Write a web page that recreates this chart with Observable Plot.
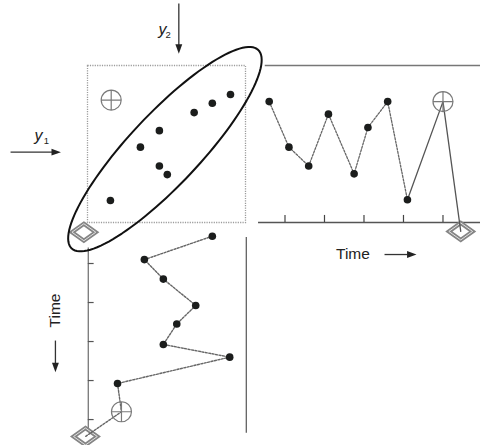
<!DOCTYPE html>
<html><head><meta charset="utf-8">
<script src="https://cdn.jsdelivr.net/npm/d3@7"></script>
<script src="https://cdn.jsdelivr.net/npm/@observablehq/plot@0.6"></script>
<style>
html,body{margin:0;padding:0;background:#fff;}
#chart{position:relative;width:480px;height:445px;overflow:hidden;}
#chart svg{position:absolute;left:0;top:0;}
</style></head><body><div id="chart"></div>
<script>
// ---- data ----
// right panel: y1 over time
const time = [1.2, 2.2, 3.2, 4.2, 5.5, 6.2, 7.2, 8.2];
const y1Values = [7.7, 4.8, 3.6, 6.9, 3.1, 6.05, 7.7, 1.45];
// bottom panel: y2 over time (time runs downward)
const timeDown = [0.6, 1.8, 2.8, 4.15, 5.1, 6.15, 6.8, 8.15];
const y2Values = [7.9, 3.6, 4.8, 6.85, 5.65, 4.8, 9.0, 1.9];
// scatter panel: y1 against y2
const scatterY2 = [9.05, 7.9, 6.75, 4.55, 3.35, 4.55, 5.05, 1.45];
const scatterY1 = [8.15, 7.6, 7.0, 5.85, 4.8, 3.6, 3.05, 1.4];
// new observation (circled plus) in each panel
const newScatter = [1.5, 7.8];   // [y2, y1]
const newRight = [10.0, 7.7];    // [time, y1]
const newBottom = [2.15, 9.6];   // [y2, time]
// reference point (diamond) in each panel
const refScatter = [-0.23, -0.62];
const refRight = [10.9, -0.57];
const refBottom = [-0.13, 10.87];
// time axis ticks
const timeTicks = [2, 4, 6, 8, 10];
// control ellipse: centre y2, centre y1, semi-major, semi-minor, angle (deg)
const ellipseParams = [4.9, 4.67, 8.65, 2.25, 47];
// texts
const labelY = "y";
const labelSub1 = "1";
const labelSub2 = "2";
const labelTime = "Time";

// ---- styles ----
const FONT = "'Liberation Sans', Arial, Helvetica, sans-serif";
const ink = "#1b1d1c";
const lineGray = "#666";

// ---- custom symbols ----
const circlePlus = {draw(ctx, size) {
  const r = Math.sqrt(size / Math.PI);
  ctx.moveTo(r, 0); ctx.arc(0, 0, r, 0, 2 * Math.PI);
  ctx.moveTo(-r, 0); ctx.lineTo(r, 0);
  ctx.moveTo(0, -r); ctx.lineTo(0, r);
}};
const diamondSym = {draw(ctx, size) {
  const r = Math.sqrt(size / Math.PI);
  const w = r * 1.4, h = r;
  ctx.moveTo(0, -h); ctx.lineTo(w, 0); ctx.lineTo(0, h); ctx.lineTo(-w, 0); ctx.closePath();
}};
const headRight = {draw(ctx, size) {
  const r = Math.sqrt(size / Math.PI);
  ctx.moveTo(r * 1.1, 0); ctx.lineTo(-r * 1.1, -r * 0.8); ctx.lineTo(-r * 1.1, r * 0.8); ctx.closePath();
}};
const headDown = {draw(ctx, size) {
  const r = Math.sqrt(size / Math.PI);
  ctx.moveTo(0, r * 1.1); ctx.lineTo(-r * 0.8, -r * 1.1); ctx.lineTo(r * 0.8, -r * 1.1); ctx.closePath();
}};

function diamondMarks(pt) {
  const d = [pt];
  return [
    Plot.dot(d, {x: p => p[0], y: p => p[1], r: 8.5, symbol: diamondSym, fill: "#fff", stroke: "#858585", strokeWidth: 4.2}),
    Plot.dot(d, {x: p => p[0], y: p => p[1], r: 8.5, symbol: diamondSym, fill: "none", stroke: "#e2e2e2", strokeWidth: 1})
  ];
}
function plusMark(pt) {
  return Plot.dot([pt], {x: p => p[0], y: p => p[1], r: 10, symbol: circlePlus, fill: "none", stroke: "#7a7a7a", strokeWidth: 1.2});
}

const W = 480, H = 445;
const svgStyle = "background:transparent;overflow:visible;";
const chart = document.getElementById("chart");

// ---- scatter panel ----
const scatter = scatterY2.map((v, i) => ({y2: v, y1: scatterY1[i]}));
const [ecx, ecy, ea, eb, eang] = ellipseParams;
const th = eang * Math.PI / 180;
const ellipse = d3.range(0, 360, 3).map(deg => {
  const p = deg * Math.PI / 180;
  return {
    x: ecx + ea * Math.cos(p) * Math.cos(th) - eb * Math.sin(p) * Math.sin(th),
    y: ecy + ea * Math.cos(p) * Math.sin(th) + eb * Math.sin(p) * Math.cos(th)
  };
});

const panelA = Plot.plot({
  width: W, height: H, style: svgStyle,
  marginLeft: 87, marginRight: 235, marginTop: 65, marginBottom: 223,
  x: {domain: [0, 10], axis: null},
  y: {domain: [0, 10], axis: null},
  marks: [
    Plot.frame({stroke: "#9c9c9c", strokeWidth: 1.3, strokeDasharray: "1.2,1.2"}),
    ...diamondMarks(refScatter),
    Plot.dot(scatter, {x: "y2", y: "y1", r: 3.8, fill: ink}),
    plusMark(newScatter),
    Plot.line(ellipse, {x: "x", y: "y", stroke: "#111", strokeWidth: 2, curve: "linear-closed"}),
    // y1 label + arrow
    Plot.text([labelY], {x: -3.1, y: 5.5, text: d => d, fontSize: 16, fontStyle: "italic", fontFamily: FONT, fill: "#222"}),
    Plot.text([labelSub1], {x: -2.6, y: 5.2, text: d => d, fontSize: 9.5, fontFamily: FONT, fill: "#222"}),
    Plot.link([0], {x1: -4.87, x2: -2.2, y1: 4.48, y2: 4.48, stroke: "#333", strokeWidth: 1.3}),
    Plot.dot([0], {x: () => -1.98, y: () => 4.48, r: 4.3, symbol: headRight, fill: "#222"}),
    // y2 label + arrow
    Plot.text([labelY], {x: 4.75, y: 12.3, text: d => d, fontSize: 16, fontStyle: "italic", fontFamily: FONT, fill: "#222"}),
    Plot.text([labelSub2], {x: 5.1, y: 11.95, text: d => d, fontSize: 9.5, fontFamily: FONT, fill: "#222"}),
    Plot.link([0], {x1: 5.78, x2: 5.78, y1: 13.95, y2: 11.3, stroke: "#333", strokeWidth: 1.3}),
    Plot.dot([0], {x: () => 5.78, y: () => 11.05, r: 4.3, symbol: headDown, fill: "#222"})
  ]
});

// ---- right panel: y1 over time ----
const series1 = time.map((t, i) => ({t, v: y1Values[i]}));
const tail1 = [[time[time.length - 1], y1Values[y1Values.length - 1]], newRight, refRight];

const panelB = Plot.plot({
  width: W, height: H, style: svgStyle,
  marginLeft: 245, marginRight: 0, marginTop: 65, marginBottom: 223,
  x: {domain: [0, 11.9], axis: null},
  y: {domain: [0, 10], axis: null},
  marks: [
    Plot.ruleY([10], {x1: 1.0, x2: 11.9, stroke: "#777", strokeWidth: 1.6}),
    Plot.ruleY([0], {x1: 0.66, x2: 11.9, stroke: "#555", strokeWidth: 1.4}),
    Plot.ruleX(timeTicks, {y1: 0, y2: 0.45, stroke: "#444", strokeWidth: 1.2}),
    Plot.line(series1, {x: "t", y: "v", stroke: lineGray, strokeWidth: 1.3, strokeDasharray: "2,1.5"}),
    ...diamondMarks(refRight),
    Plot.line(tail1, {x: p => p[0], y: p => p[1], stroke: "#555", strokeWidth: 1.3}),
    Plot.dot(series1, {x: "t", y: "v", r: 3.8, fill: ink}),
    plusMark(newRight),
    Plot.text([labelTime], {x: 5.44, y: -2.04, text: d => d, fontSize: 15.5, fontFamily: FONT, fill: "#222"}),
    Plot.link([0], {x1: 7.04, x2: 8.2, y1: -2.04, y2: -2.04, stroke: "#333", strokeWidth: 1.3}),
    Plot.dot([0], {x: () => 8.42, y: () => -2.04, r: 4.3, symbol: headRight, fill: "#222"})
  ]
});

// ---- bottom panel: y2 over time (downward) ----
const series2 = timeDown.map((t, i) => ({t, v: y2Values[i]}));
const path2 = [...series2.map(d => [d.v, d.t]), newBottom, refBottom];

const panelC = Plot.plot({
  width: W, height: H, style: svgStyle,
  marginLeft: 87, marginRight: 235, marginTop: 224, marginBottom: 0,
  x: {domain: [0, 10], axis: null},
  y: {domain: [0, 11.33], reverse: true, axis: null},
  marks: [
    Plot.ruleX([0.05], {y1: 1.2, y2: 10.7, stroke: "#777", strokeWidth: 1.3}),
    Plot.ruleY(timeTicks, {x1: 0.05, x2: 0.42, stroke: "#555", strokeWidth: 1.2}),
    Plot.ruleX([10.05], {y1: 0.67, y2: 10.7, stroke: "#555", strokeWidth: 1.2}),
    ...diamondMarks(refBottom),
    Plot.line(path2, {x: p => p[0], y: p => p[1], stroke: lineGray, strokeWidth: 1.4, strokeDasharray: "2,1.5"}),
    Plot.dot(series2, {x: "v", y: "t", r: 3.8, fill: ink}),
    plusMark(newBottom),
    Plot.text([labelTime], {x: -2.03, y: 4.41, text: d => d, rotate: -90, fontSize: 15.5, fontFamily: FONT, fill: "#222"}),
    Plot.link([0], {x1: -2.03, x2: -2.03, y1: 5.95, y2: 7.1, stroke: "#333", strokeWidth: 1.3}),
    Plot.dot([0], {x: () => -2.03, y: () => 7.33, r: 4.3, symbol: headDown, fill: "#222"})
  ]
});

chart.append(panelC, panelB, panelA);
</script></body></html>
